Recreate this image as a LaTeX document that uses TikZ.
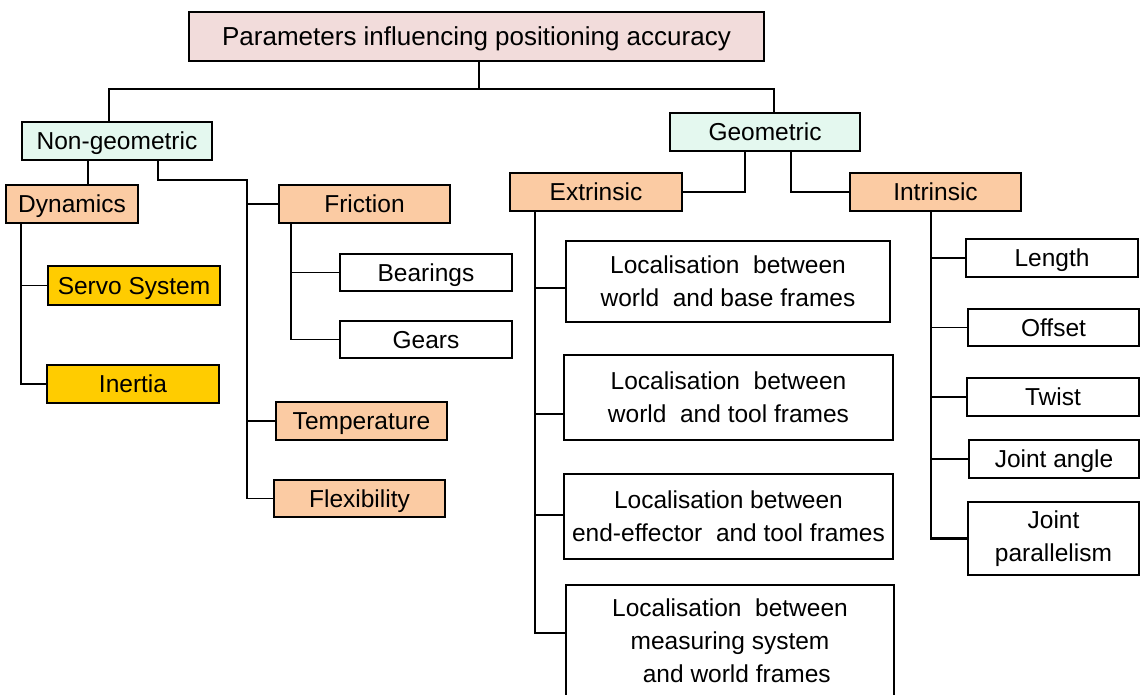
\documentclass[tikz,border=0pt]{standalone}
\usepackage{fontspec}
\setmainfont{Liberation Sans}
\definecolor{titlepink}{HTML}{F2DCDB}
\definecolor{mintc}{HTML}{E4F8EF}
\definecolor{peachc}{HTML}{FBCBA3}
\definecolor{goldc}{HTML}{FFCC00}
\newcommand{\fsz}{\fontsize{24.5pt}{33pt}\selectfont}
\newcommand{\tsz}{\fontsize{26pt}{33pt}\selectfont}
\begin{document}
\begin{tikzpicture}[x=1pt,y=-1pt,
  bx/.style={draw=black,line width=1.8pt,inner sep=0pt,align=center,font=\fsz,text=black},
  one/.style={text height=17.5pt,text depth=0pt},
  sz/.style 2 args={minimum width=#1pt,minimum height=#2pt},
  pinkbox/.style={bx,one,fill=titlepink,font=\tsz,line width=2.2pt,text height=18.6pt},
  mintbox/.style={bx,one,fill=mintc},
  peachbox/.style={bx,one,fill=peachc},
  goldbox/.style={bx,one,fill=goldc},
  whitebox/.style={bx,fill=white},
  ln/.style={line width=1.9pt},
  thk/.style={line width=2.6pt}]
\useasboundingbox (0,0) rectangle (1140,694);
\fill[white] (0,0) rectangle (1140,694);

% nodes
\node[pinkbox,sz={575}{49}] (title) at (476.5,36.5) {Parameters influencing positioning accuracy};
\node[mintbox,sz={190}{38}] (nongeo) at (117,141) {Non-geometric};
\node[mintbox,sz={190}{38}] (geo) at (765,132) {Geometric};
\node[peachbox,sz={132}{38}] (dyn) at (72,204) {Dynamics};
\node[peachbox,sz={171}{38}] (fric) at (364.5,204) {Friction};
\node[whitebox,one,sz={172}{37}] (bear) at (426,272.5) {Bearings};
\node[whitebox,one,sz={172}{37}] (gears) at (426,339.5) {Gears};
\node[peachbox,sz={171}{38}] (temp) at (361.5,421) {Temperature};
\node[peachbox,sz={171}{37}] (flex) at (359.5,498.5) {Flexibility};
\node[goldbox,sz={172}{39}] (servo) at (134,285.5) {Servo System};
\node[goldbox,sz={172}{38}] (inertia) at (133,384) {Inertia};
\node[peachbox,sz={172}{38}] (ext) at (596,192) {Extrinsic};
\node[peachbox,sz={171}{38}] (int) at (935.5,192) {Intrinsic};
\node[whitebox,sz={324}{81}] (L1) at (728,281.5) {Localisation\ \ between\\world\ \ and base frames};
\node[whitebox,sz={329}{85}] (L2) at (728.5,397.5) {Localisation\ \ between\\world\ \ and tool frames};
\node[whitebox,sz={329}{85}] (L3) at (728.5,516.5) {Localisation between\\end-effector\ \ and tool frames};
\node[whitebox,sz={328}{111}] (L4) at (730,640.5) {Localisation\ \ between\\measuring system\\\ \ and world frames};
\node[whitebox,one,sz={172}{38}] (len) at (1052,258) {Length};
\node[whitebox,one,sz={171}{37}] (off) at (1053.5,327.5) {Offset};
\node[whitebox,one,sz={172}{38}] (twist) at (1053,397) {Twist};
\node[whitebox,one,sz={170}{38}] (jangle) at (1054,459) {Joint angle};
\node[whitebox,sz={171}{73},line width=2.6pt] (jpar) at (1053.5,538.5) {Joint\\parallelism};

% top connectors
\coordinate (tj) at (479,89);
\coordinate (ng) at (109,0);
\coordinate (gg) at (774,0);
\draw[ln] (title.south -| tj) -- (tj);
\draw[ln] (nongeo.north -| ng) |- (tj) -| (geo.north -| gg);

% non-geometric
\coordinate (c1) at (88,0);
\coordinate (c2) at (158,0);
\coordinate (nb) at (247,180);
\draw[ln] (nongeo.south -| c1) -- (dyn.north -| c1);
\draw[ln] (nongeo.south -| c2) |- (nb) -- (nb |- flex.west) -- (flex.west);
\draw[ln] (nb |- fric.west) -- (fric.west);
\draw[ln] (nb |- temp.west) -- (temp.west);

% dynamics
\coordinate (db) at (21,0);
\draw[ln] (dyn.south -| db) |- (inertia.west);
\draw[ln] (db |- servo.west) -- (servo.west);

% friction
\coordinate (fb) at (291,0);
\draw[ln] (fric.south -| fb) |- (gears.west);
\draw[ln] (fb |- bear.west) -- (bear.west);

% geometric
\coordinate (g1) at (745,0);
\coordinate (g2) at (791,0);
\draw[ln] (geo.south -| g1) |- (ext.east);
\draw[ln] (geo.south -| g2) |- (int.west);

% extrinsic
\coordinate (eb) at (535,0);
\coordinate (e1) at (535,288);
\coordinate (e2) at (535,414);
\coordinate (e3) at (535,515);
\coordinate (e4) at (535,633);
\draw[ln] (ext.south -| eb) -- (e3);
\draw[thk] (e3) -- (e4) -- (e4 -| L4.west);
\draw[ln] (e1) -- (e1 -| L1.west);
\draw[ln] (e2) -- (e2 -| L2.west);
\draw[ln] (e3) -- (e3 -| L3.west);

% intrinsic
\coordinate (ib) at (931,0);
\draw[ln] (int.south -| ib) -- (ib |- jangle.west);
\draw[thk] (ib |- jangle.west) |- (jpar.west);
\draw[ln] (ib |- len.west) -- (len.west);
\draw[ln] (ib |- off.west) -- (off.west);
\draw[ln] (ib |- twist.west) -- (twist.west);
\draw[ln] (ib |- jangle.west) -- (jangle.west);
\end{tikzpicture}
\end{document}
